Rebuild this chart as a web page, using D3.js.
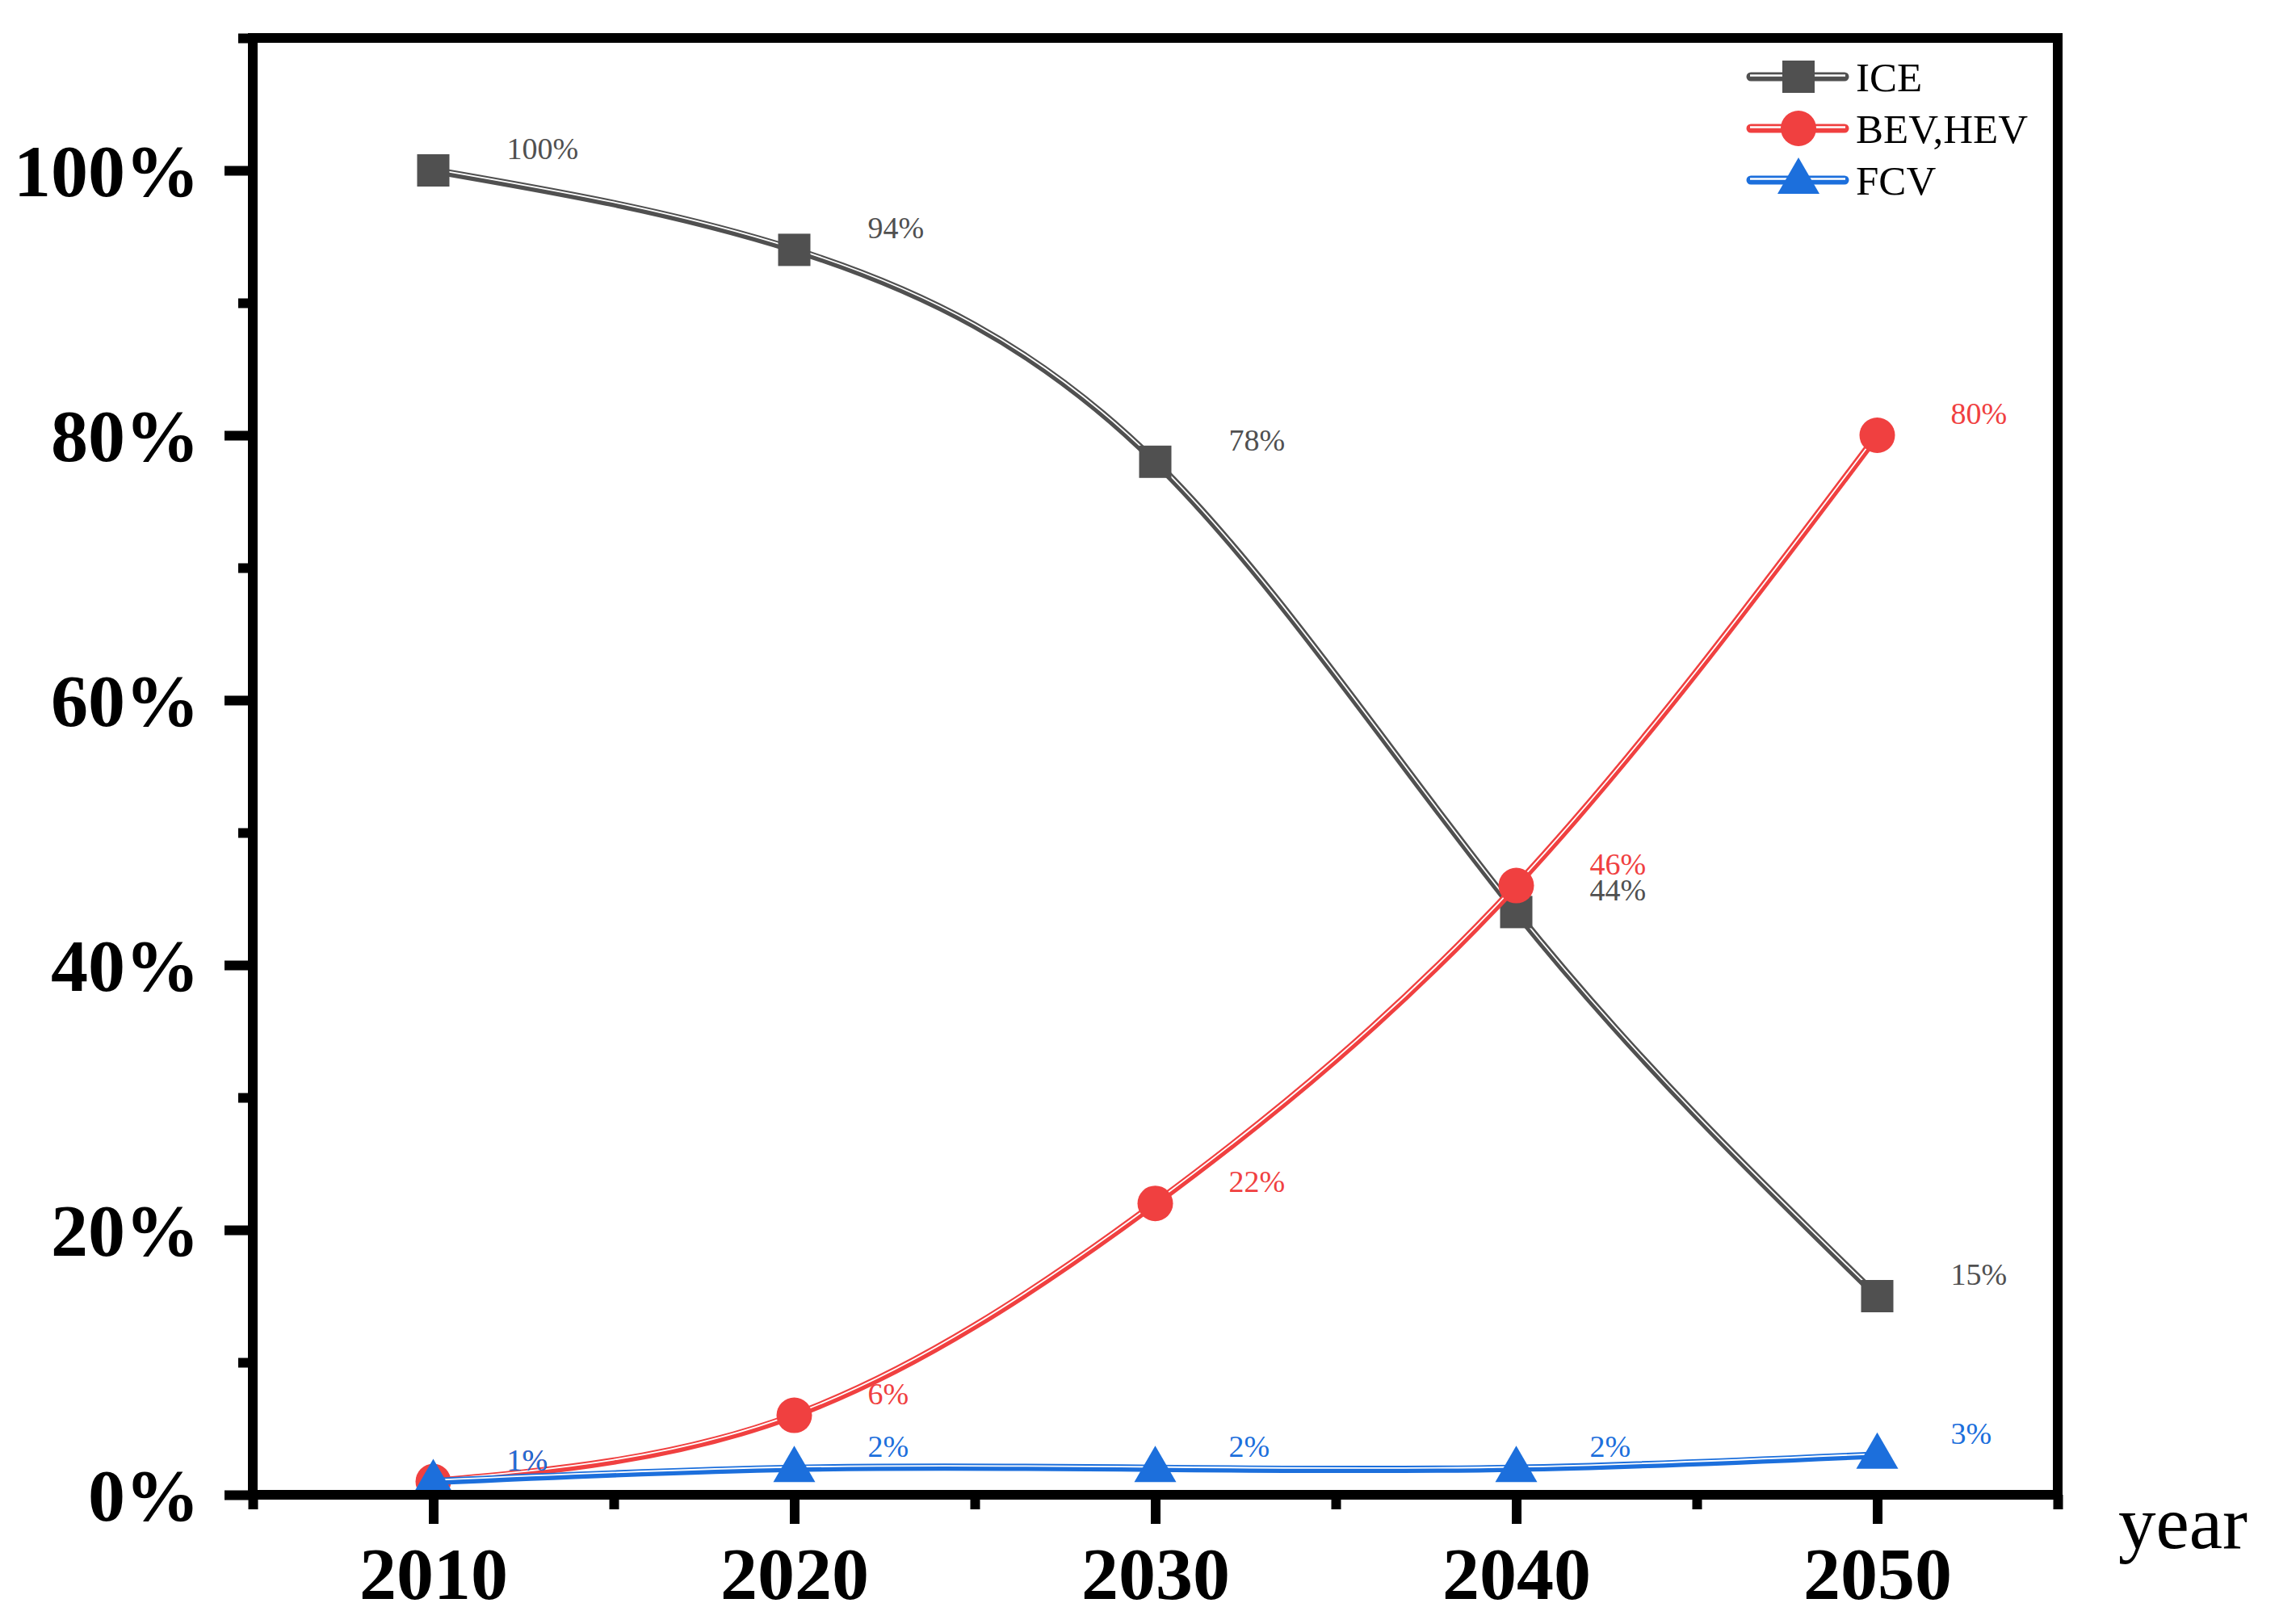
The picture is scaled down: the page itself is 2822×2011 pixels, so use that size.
<!DOCTYPE html>
<html>
<head>
<meta charset="utf-8">
<script src="https://cdn.jsdelivr.net/npm/d3@7"></script>
<style>
  html, body { margin: 0; padding: 0; background: #fff; }
  svg { display: block; }
  text { font-family: "Liberation Serif", "Times New Roman", Times, serif; }
</style>
</head>
<body>
<svg id="chart" width="2822" height="2011"></svg>
<script>
// ---- data ----
const years = [2010, 2020, 2030, 2040, 2050];
const iceValues = [100, 94, 78, 44, 15];
const bevValues = [1, 6, 22, 46, 80];
const fcvValues = [1, 2, 2, 2, 3];
const seriesNames = ["ICE", "BEV,HEV", "FCV"];
const seriesColors = ["#505050", "#f04040", "#1c6fdc"];
const markerTypes = ["square", "circle", "triangle"];
const yTickValues = [0, 20, 40, 60, 80, 100];
const yMinorTickValues = [10, 30, 50, 70, 90, 110];
const xTickValues = [2010, 2020, 2030, 2040, 2050];
const xMinorTickValues = [2005, 2015, 2025, 2035, 2045, 2055];
const xAxisTitle = "year";

const series = [iceValues, bevValues, fcvValues].map((vals, i) => ({
  name: seriesNames[i], color: seriesColors[i], marker: markerTypes[i],
  points: years.map((yr, j) => ({ x: yr, y: vals[j] }))
}));

// ---- layout ----
const svg = d3.select("#chart");
const plotLeft = 313, plotRight = 2548, plotTop = 47, plotBottom = 1851;
const x = d3.scaleLinear().domain([2005, 2055]).range([plotLeft, plotRight]);
const y = d3.scaleLinear().domain([0, 110]).range([plotBottom, plotTop]);
const AXW = 12;
const fontFam = '"Liberation Serif", "Times New Roman", Times, serif';

// ---- series ----
function drawMarker(g, type, cx, cy, color) {
  if (type === "square") {
    g.append("rect").attr("x", cx - 20).attr("y", cy - 20).attr("width", 40).attr("height", 40).attr("fill", color);
  } else if (type === "circle") {
    g.append("circle").attr("cx", cx).attr("cy", cy).attr("r", 22).attr("fill", color);
  } else {
    g.append("path").attr("d", `M${cx},${cy - 28}L${cx + 26},${cy + 17}L${cx - 26},${cy + 17}Z`).attr("fill", color);
  }
}

const line = d3.line().x(d => x(d.x)).y(d => y(d.y)).curve(d3.curveNatural);
const plot = svg.append("g");
series.forEach(s => {
  const g = plot.append("g");
  g.append("path").attr("d", line(s.points)).attr("fill", "none")
    .attr("stroke", s.color).attr("stroke-width", 9);
  g.append("path").attr("d", line(s.points)).attr("fill", "none")
    .attr("stroke", "#fff").attr("stroke-width", 1.8)
    .attr("transform", "translate(0,-1.7)");
  s.points.forEach(p => drawMarker(g, s.marker, x(p.x), y(p.y), s.color));
});
// data labels
series.forEach(s => {
  plot.append("g").selectAll("text").data(s.points).join("text")
    .attr("x", d => x(d.x) + 91)
    .attr("y", d => y(d.y) - 14)
    .attr("font-size", 38)
    .attr("fill", s.color)
    .text(d => d.y + "%");
});

// ---- frame ----
svg.append("rect")
  .attr("x", plotLeft).attr("y", plotTop)
  .attr("width", plotRight - plotLeft).attr("height", plotBottom - plotTop)
  .attr("fill", "none").attr("stroke", "#000").attr("stroke-width", AXW);

// ---- axes ----
function styleAxis(g) {
  g.select(".domain").remove();
  g.selectAll(".tick line").attr("stroke", "#000").attr("stroke-width", AXW);
}
// x major
const xAxis = svg.append("g").attr("transform", `translate(0,${plotBottom})`)
  .call(d3.axisBottom(x).tickValues(xTickValues).tickSize(36).tickPadding(0).tickFormat(d3.format("d")));
styleAxis(xAxis);
xAxis.selectAll(".tick text")
  .attr("y", 129).attr("dy", null)
  .attr("font-family", fontFam).attr("font-size", 92).attr("font-weight", "bold").attr("fill", "#000");
// x minor
const xMinor = svg.append("g").attr("transform", `translate(0,${plotBottom})`)
  .call(d3.axisBottom(x).tickValues(xMinorTickValues).tickSize(18).tickFormat(""));
styleAxis(xMinor);
// y major
const yAxis = svg.append("g").attr("transform", `translate(${plotLeft},0)`)
  .call(d3.axisLeft(y).tickValues(yTickValues).tickSize(35).tickPadding(0).tickFormat(d => d + "%"));
styleAxis(yAxis);
yAxis.selectAll(".tick text")
  .attr("x", -66).attr("dy", null).attr("y", 31)
  .attr("font-family", fontFam).attr("font-size", 92).attr("font-weight", "bold").attr("fill", "#000");
// y minor
const yMinor = svg.append("g").attr("transform", `translate(${plotLeft},0)`)
  .call(d3.axisLeft(y).tickValues(yMinorTickValues).tickSize(18).tickFormat(""));
styleAxis(yMinor);

// axis title
svg.append("text").attr("x", 2623).attr("y", 1917)
  .attr("font-size", 93).attr("fill", "#000").text(xAxisTitle);

// ---- legend ----
const legend = svg.append("g");
series.forEach((s, i) => {
  const cy = 95 + i * 64;
  const g = legend.append("g");
  g.append("line").attr("x1", 2168).attr("x2", 2284).attr("y1", cy).attr("y2", cy)
    .attr("stroke", s.color).attr("stroke-width", 11).attr("stroke-linecap", "round");
  g.append("line").attr("x1", 2167).attr("x2", 2285).attr("y1", cy - 1.5).attr("y2", cy - 1.5)
    .attr("stroke", "#fff").attr("stroke-width", 2.3);
  drawMarker(g, s.marker, 2227, cy, s.color);
  g.append("text").attr("x", 2298).attr("y", cy + 18)
    .attr("font-size", 51).attr("fill", "#000").text(s.name);
});
</script>
</body>
</html>
